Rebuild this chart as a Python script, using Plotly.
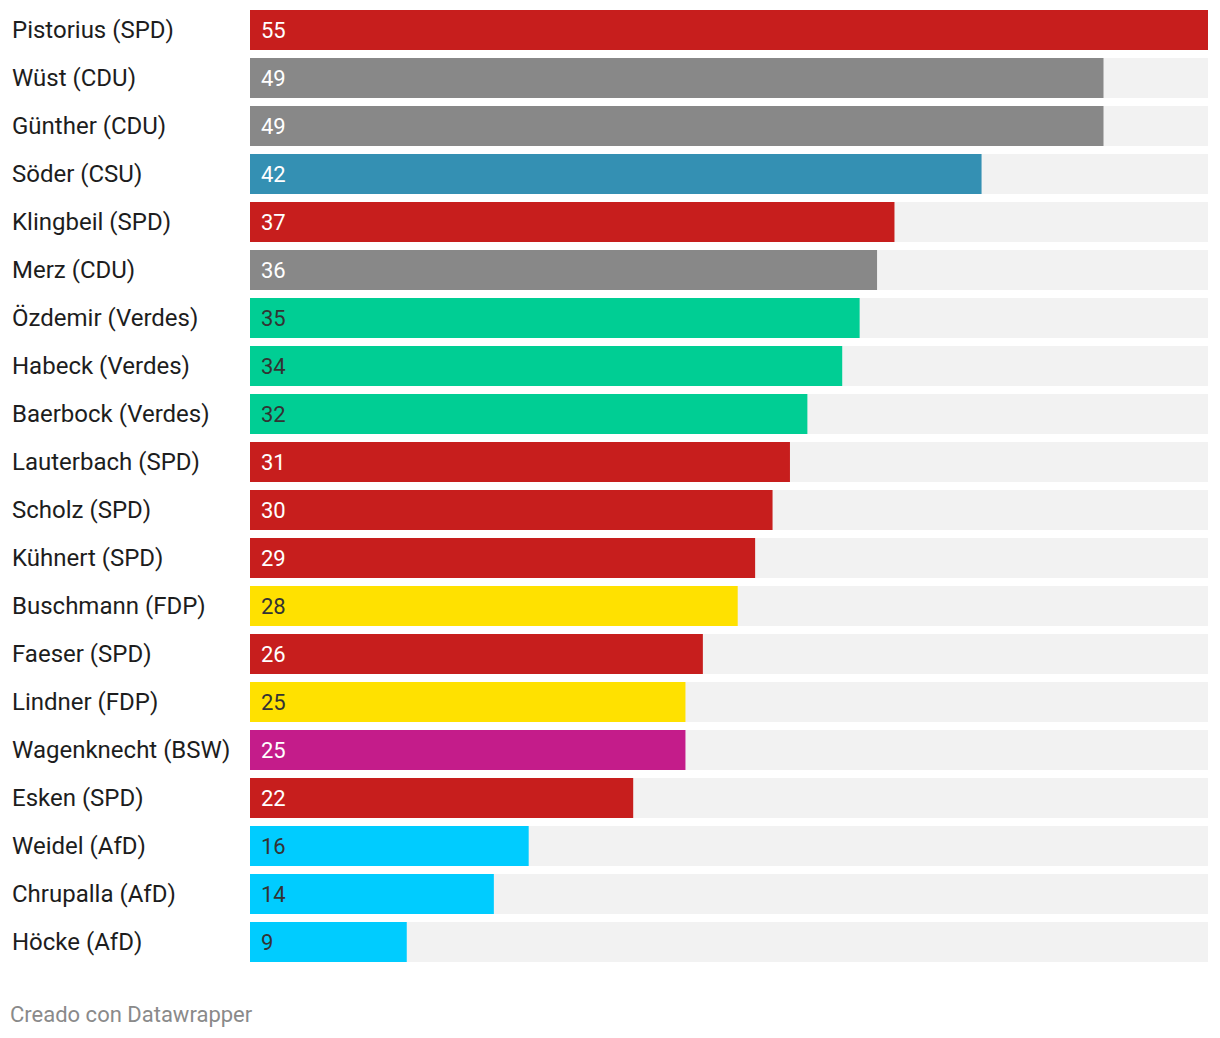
import plotly.graph_objects as go

names = ["Pistorius (SPD)", "Wüst (CDU)", "Günther (CDU)", "Söder (CSU)", "Klingbeil (SPD)",
         "Merz (CDU)", "Özdemir (Verdes)", "Habeck (Verdes)", "Baerbock (Verdes)", "Lauterbach (SPD)",
         "Scholz (SPD)", "Kühnert (SPD)", "Buschmann (FDP)", "Faeser (SPD)", "Lindner (FDP)",
         "Wagenknecht (BSW)", "Esken (SPD)", "Weidel (AfD)", "Chrupalla (AfD)", "Höcke (AfD)"]
values = [55, 49, 49, 42, 37, 36, 35, 34, 32, 31, 30, 29, 28, 26, 25, 25, 22, 16, 14, 9]
parties = ["SPD", "CDU", "CDU", "CSU", "SPD", "CDU", "Verdes", "Verdes", "Verdes", "SPD",
           "SPD", "SPD", "FDP", "SPD", "FDP", "BSW", "SPD", "AfD", "AfD", "AfD"]

party_colors = {"SPD": "#c71e1d", "CDU": "#888888", "CSU": "#3490b3", "Verdes": "#00ce94",
                "FDP": "#ffe100", "BSW": "#c41c8a", "AfD": "#00ccff"}
party_text = {"SPD": "#ffffff", "CDU": "#ffffff", "CSU": "#ffffff", "Verdes": "#333333",
              "FDP": "#333333", "BSW": "#ffffff", "AfD": "#333333"}

vmax = max(values)
fig = go.Figure()
fig.add_trace(go.Bar(y=names, x=[vmax] * len(names), orientation="h",
                     marker=dict(color="#f2f2f2", line=dict(width=0)), hoverinfo="skip"))
fig.add_trace(go.Bar(y=names, x=values, orientation="h",
                     marker=dict(color=[party_colors[p] for p in parties], line=dict(width=0))))

annotations = []
for n, v, p in zip(names, values, parties):
    annotations.append(dict(x=0, y=n, xref="x", yref="y", text=str(v), showarrow=False,
                            xanchor="left", xshift=9,
                            font=dict(family="Roboto", size=22, color=party_text[p])))
    annotations.append(dict(x=(10 - 250) / 958, y=n, xref="paper", yref="y", text=n,
                            showarrow=False, xanchor="left",
                            font=dict(family="Roboto", size=24, color="#1d1d1d")))
annotations.append(dict(x=(8 - 250) / 958, y=(1038 - 1014 - 72) / 960, xref="paper", yref="paper",
                        text="Creado con Datawrapper", showarrow=False, xanchor="left", yanchor="middle",
                        font=dict(family="Roboto", size=22, color="#8a8a8a")))

fig.update_layout(
    width=1220, height=1038,
    margin=dict(l=250, r=12, t=6, b=72),
    paper_bgcolor="white", plot_bgcolor="white",
    barmode="overlay", bargap=1 / 6, showlegend=False,
    xaxis=dict(range=[0, vmax], visible=False, fixedrange=True),
    yaxis=dict(autorange="reversed", showticklabels=False, showgrid=False, zeroline=False,
               ticks="", fixedrange=True),
    annotations=annotations,
)
fig.write_html("out.html", config={"displayModeBar": False},
               post_script="document.body.style.margin='0';document.body.style.overflow='hidden';")
